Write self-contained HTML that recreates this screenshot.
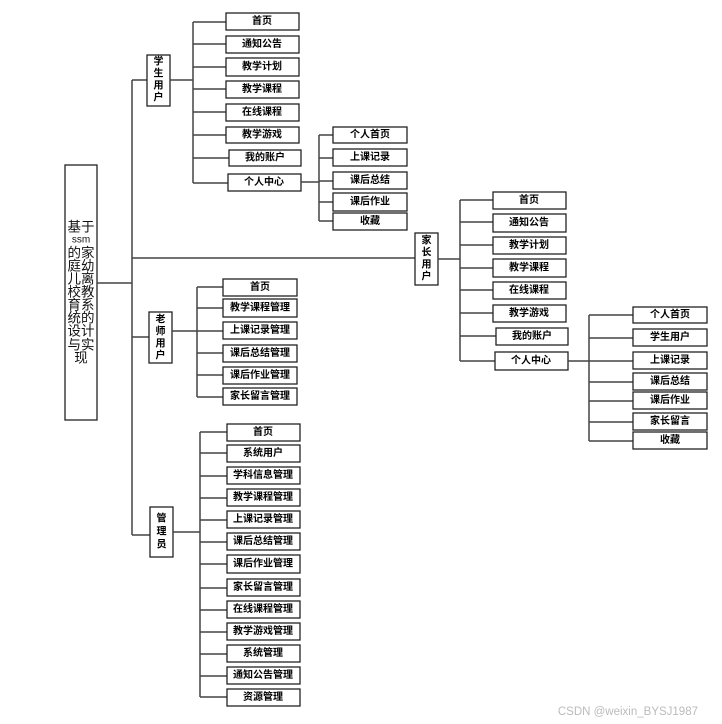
<!DOCTYPE html>
<html><head><meta charset="utf-8"><style>
html,body{margin:0;padding:0;background:#fff;}
svg{display:block;}
.l{stroke:#444;stroke-width:1.5;fill:none;}
.b{fill:#fff;stroke:#222;stroke-width:1.3;}
.t{font-family:"Liberation Sans","Noto Sans CJK SC",sans-serif;font-size:10px;font-weight:bold;fill:#000;text-anchor:middle;dominant-baseline:central;}
.r{font-family:"Liberation Sans","Noto Sans CJK SC",sans-serif;font-size:13.5px;fill:#111;text-anchor:middle;dominant-baseline:central;}
</style></head><body>
<svg width="722" height="724" viewBox="0 0 722 724" xmlns="http://www.w3.org/2000/svg">
<!-- root -->
<rect class="b" x="65" y="165" width="32" height="255"/>
<text class="r" x="81" y="227">基于</text>
<text class="r" x="81" y="240" style="font-size:10px">ssm</text>
<text class="r" x="81" y="253">的家</text>
<text class="r" x="81" y="266">庭幼</text>
<text class="r" x="81" y="279">儿离</text>
<text class="r" x="81" y="292">校教</text>
<text class="r" x="81" y="305">育系</text>
<text class="r" x="81" y="318">统的</text>
<text class="r" x="81" y="331">设计</text>
<text class="r" x="81" y="345">与实</text>
<text class="r" x="81" y="358">现</text>

<!-- trunk -->
<path class="l" d="M97 283H132M132 80V535M132 80H147M132 258H415M132 337H149M132 535H150"/>

<!-- student -->
<rect class="b" x="147" y="55" width="23" height="51"/>
<text class="t" x="158.5" y="62">学</text><text class="t" x="158.5" y="74">生</text><text class="t" x="158.5" y="86">用</text><text class="t" x="158.5" y="98">户</text>
<path class="l" d="M170 80H193M193 22V183M193 22H226M193 44H226M193 67H226M193 89H226M193 112H226M193 135H226M193 158H229M193 183H228"/>
<rect class="b" x="226" y="13" width="73" height="17"/><text class="t" x="262" y="21.5">首页</text>
<rect class="b" x="226" y="36" width="73" height="17"/><text class="t" x="262" y="44.5">通知公告</text>
<rect class="b" x="226" y="58" width="73" height="18"/><text class="t" x="262" y="67">教学计划</text>
<rect class="b" x="226" y="81" width="73" height="17"/><text class="t" x="262" y="89.5">教学课程</text>
<rect class="b" x="226" y="104" width="73" height="17"/><text class="t" x="262" y="112.5">在线课程</text>
<rect class="b" x="226" y="127" width="73" height="16"/><text class="t" x="262" y="135">教学游戏</text>
<rect class="b" x="229" y="150" width="72" height="16"/><text class="t" x="265" y="158">我的账户</text>
<rect class="b" x="228" y="174" width="73" height="17"/><text class="t" x="264" y="182.5">个人中心</text>
<path class="l" d="M301 182H319M319 135V221M319 135H333M319 158H333M319 181H333M319 202H333M319 221H333"/>
<rect class="b" x="333" y="127" width="74" height="16"/><text class="t" x="370" y="135">个人首页</text>
<rect class="b" x="333" y="149" width="74" height="17"/><text class="t" x="370" y="157.5">上课记录</text>
<rect class="b" x="333" y="172" width="74" height="17"/><text class="t" x="370" y="180.5">课后总结</text>
<rect class="b" x="333" y="193" width="74" height="18"/><text class="t" x="370" y="202">课后作业</text>
<rect class="b" x="333" y="213" width="74" height="17"/><text class="t" x="370" y="221.5">收藏</text>

<!-- parent -->
<rect class="b" x="415" y="233" width="23" height="52"/>
<text class="t" x="426.5" y="241">家</text><text class="t" x="426.5" y="253">长</text><text class="t" x="426.5" y="265">用</text><text class="t" x="426.5" y="277">户</text>
<path class="l" d="M438 259H460M460 200V361M460 200H493M460 222H493M460 245H493M460 268H493M460 290H493M460 313H493M460 336H496M460 361H495"/>
<rect class="b" x="493" y="192" width="73" height="17"/><text class="t" x="529" y="200.5">首页</text>
<rect class="b" x="493" y="214" width="73" height="18"/><text class="t" x="529" y="223">通知公告</text>
<rect class="b" x="493" y="237" width="73" height="17"/><text class="t" x="529" y="245.5">教学计划</text>
<rect class="b" x="493" y="259" width="73" height="18"/><text class="t" x="529" y="268">教学课程</text>
<rect class="b" x="493" y="282" width="73" height="17"/><text class="t" x="529" y="290.5">在线课程</text>
<rect class="b" x="493" y="305" width="73" height="17"/><text class="t" x="529" y="313.5">教学游戏</text>
<rect class="b" x="496" y="328" width="72" height="17"/><text class="t" x="532" y="336.5">我的账户</text>
<rect class="b" x="495" y="352" width="73" height="18"/><text class="t" x="531" y="361">个人中心</text>
<path class="l" d="M568 361H589M589 315V441M589 315H633M589 338H633M589 361H633M589 382H633M589 401H633M589 422H633M589 441H633"/>
<rect class="b" x="633" y="307" width="74" height="16"/><text class="t" x="670" y="315">个人首页</text>
<rect class="b" x="633" y="329" width="74" height="17"/><text class="t" x="670" y="337.5">学生用户</text>
<rect class="b" x="633" y="352" width="74" height="17"/><text class="t" x="670" y="360.5">上课记录</text>
<rect class="b" x="633" y="373" width="74" height="17"/><text class="t" x="670" y="381.5">课后总结</text>
<rect class="b" x="633" y="392" width="74" height="17"/><text class="t" x="670" y="400.5">课后作业</text>
<rect class="b" x="633" y="413" width="74" height="17"/><text class="t" x="670" y="421.5">家长留言</text>
<rect class="b" x="633" y="432" width="74" height="17"/><text class="t" x="670" y="440.5">收藏</text>

<!-- teacher -->
<rect class="b" x="149" y="312" width="23" height="51"/>
<text class="t" x="160.5" y="320">老</text><text class="t" x="160.5" y="332">师</text><text class="t" x="160.5" y="344">用</text><text class="t" x="160.5" y="356">户</text>
<path class="l" d="M172 331H197M197 287V397M197 287H223M197 308H223M197 331H223M197 353H223M197 375H223M197 397H223"/>
<rect class="b" x="223" y="279" width="74" height="17"/><text class="t" x="260" y="287.5">首页</text>
<rect class="b" x="223" y="299" width="74" height="18"/><text class="t" x="260" y="308">教学课程管理</text>
<rect class="b" x="223" y="322" width="74" height="17"/><text class="t" x="260" y="330.5">上课记录管理</text>
<rect class="b" x="223" y="345" width="74" height="17"/><text class="t" x="260" y="353.5">课后总结管理</text>
<rect class="b" x="223" y="367" width="74" height="17"/><text class="t" x="260" y="375.5">课后作业管理</text>
<rect class="b" x="223" y="388" width="74" height="17"/><text class="t" x="260" y="396.5">家长留言管理</text>

<!-- admin -->
<rect class="b" x="150" y="507" width="23" height="50"/>
<text class="t" x="161.5" y="519">管</text><text class="t" x="161.5" y="532">理</text><text class="t" x="161.5" y="545">员</text>
<path class="l" d="M173 532H200M200 432V697M200 432H227M200 453H227M200 476H227M200 498H227M200 520H227M200 542H227M200 564H227M200 588H227M200 610H227M200 632H227M200 654H227M200 676H227M200 697H227"/>
<rect class="b" x="227" y="424" width="73" height="17"/><text class="t" x="263" y="432.5">首页</text>
<rect class="b" x="227" y="445" width="73" height="17"/><text class="t" x="263" y="453.5">系统用户</text>
<rect class="b" x="227" y="467" width="73" height="17"/><text class="t" x="263" y="475.5">学科信息管理</text>
<rect class="b" x="227" y="489" width="73" height="17"/><text class="t" x="263" y="497.5">教学课程管理</text>
<rect class="b" x="227" y="511" width="73" height="17"/><text class="t" x="263" y="519.5">上课记录管理</text>
<rect class="b" x="227" y="533" width="73" height="17"/><text class="t" x="263" y="541.5">课后总结管理</text>
<rect class="b" x="227" y="555" width="73" height="18"/><text class="t" x="263" y="564">课后作业管理</text>
<rect class="b" x="227" y="579" width="73" height="17"/><text class="t" x="263" y="587.5">家长留言管理</text>
<rect class="b" x="227" y="601" width="73" height="17"/><text class="t" x="263" y="609.5">在线课程管理</text>
<rect class="b" x="227" y="623" width="73" height="17"/><text class="t" x="263" y="631.5">教学游戏管理</text>
<rect class="b" x="227" y="645" width="73" height="17"/><text class="t" x="263" y="653.5">系统管理</text>
<rect class="b" x="227" y="667" width="73" height="17"/><text class="t" x="263" y="675.5">通知公告管理</text>
<rect class="b" x="227" y="689" width="73" height="17"/><text class="t" x="263" y="697.5">资源管理</text>

<text x="698" y="712" style="font-family:'Liberation Sans',sans-serif;font-size:11.5px;fill:#bbb;text-anchor:end;dominant-baseline:central;">CSDN @weixin_BYSJ1987</text>
</svg>
</body></html>
